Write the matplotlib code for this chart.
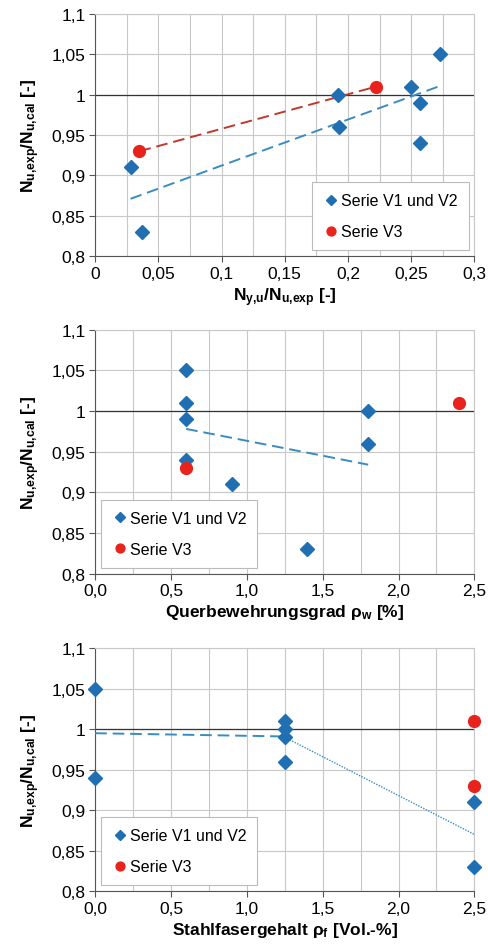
import matplotlib
matplotlib.use("Agg")
import matplotlib.pyplot as plt
from matplotlib.ticker import MultipleLocator, FuncFormatter

plt.rcParams["font.family"] = ["Liberation Sans", "DejaVu Sans"]
plt.rcParams["mathtext.fontset"] = "custom"
plt.rcParams["mathtext.rm"] = "Liberation Sans"
plt.rcParams["mathtext.bf"] = "Liberation Sans:bold"
plt.rcParams["mathtext.it"] = "Liberation Sans:italic"

BLUE = "#1f6fb2"
RED = "#e8231b"
TREND_BLUE = "#3a8cc0"
TREND_RED = "#c0392b"

# panel 1: Ny,u/Nu,exp
p1_blue_x = [0.028, 0.037, 0.192, 0.193, 0.250, 0.257, 0.257, 0.273]
p1_blue_y = [0.91, 0.83, 1.00, 0.96, 1.01, 0.99, 0.94, 1.05]
p1_red_x = [0.035, 0.222]
p1_red_y = [0.93, 1.01]
p1_trend_blue_x = [0.028, 0.273]
p1_trend_blue_y = [0.871, 1.011]
p1_trend_red_x = [0.035, 0.222]
p1_trend_red_y = [0.930, 1.010]

# panel 2: Querbewehrungsgrad
p2_blue_x = [0.6, 0.6, 0.6, 0.6, 0.9, 1.4, 1.8, 1.8]
p2_blue_y = [1.05, 1.01, 0.99, 0.94, 0.91, 0.83, 1.00, 0.96]
p2_red_x = [0.6, 2.4]
p2_red_y = [0.93, 1.01]
p2_trend_x = [0.6, 1.8]
p2_trend_y = [0.978, 0.934]

# panel 3: Stahlfasergehalt
p3_blue_x = [0.0, 0.0, 1.25, 1.25, 1.25, 1.25, 2.5, 2.5]
p3_blue_y = [1.05, 0.94, 1.01, 1.00, 0.99, 0.96, 0.91, 0.83]
p3_red_x = [2.5, 2.5]
p3_red_y = [1.01, 0.93]
p3_dash_x = [0.0, 1.25]
p3_dash_y = [0.995, 0.991]
p3_dot_x = [1.25, 2.5]
p3_dot_y = [0.99, 0.87]

YLABEL = r"$\mathbf{N_{u{,}exp}/N_{u{,}cal}}$ [-]"


def num(v, digits):
    s = "{:.{}f}".format(v, digits)
    if digits == 2:
        s = s.rstrip("0").rstrip(".")
    return s.replace(".", ",")


def setup(ax, xlim, xmajor, xminor, xdigits, xlabel):
    ax.set_xlim(*xlim)
    ax.set_ylim(0.8, 1.1)
    ax.xaxis.set_major_locator(MultipleLocator(xmajor))
    ax.xaxis.set_minor_locator(MultipleLocator(xminor))
    ax.yaxis.set_major_locator(MultipleLocator(0.05))
    ax.xaxis.set_major_formatter(FuncFormatter(lambda v, _: num(v, xdigits)))
    ax.yaxis.set_major_formatter(FuncFormatter(lambda v, _: num(v, 2)))
    ax.grid(True, which="both", color="#c8c8c8", lw=0.8)
    ax.set_axisbelow(True)
    ax.axhline(1.0, color="#333333", lw=0.9, zorder=1)
    for s in ["top", "right"]:
        ax.spines[s].set_color("#c8c8c8")
    for s in ["left", "bottom"]:
        ax.spines[s].set_color("#555555")
    ax.tick_params(which="major", direction="out", length=4, labelsize=12.5,
                   color="#555555", pad=3)
    ax.tick_params(which="minor", length=0)
    ax.set_ylabel(YLABEL, fontsize=12.5, fontweight="bold", labelpad=7)
    ax.set_xlabel(xlabel, fontsize=12.5, fontweight="bold", labelpad=3)


def scatter(ax, bx, by, rx, ry):
    ax.plot(bx, by, "D", color=BLUE, ms=7, ls="none",
            label="Serie V1 und V2", zorder=4, clip_on=False)
    ax.plot(rx, ry, "o", color=RED, ms=8.5, ls="none",
            label="Serie V3", zorder=4, clip_on=False)


fig = plt.figure(figsize=(4.88, 9.45), dpi=100)
ax1 = fig.add_axes([0.195, 0.728, 0.777, 0.256])
ax2 = fig.add_axes([0.195, 0.392, 0.777, 0.258])
ax3 = fig.add_axes([0.195, 0.056, 0.777, 0.257])

# panel 1
setup(ax1, (0, 0.3), 0.05, 0.025, 2, r"$\mathbf{N_{y{,}u}/N_{u{,}exp}}$ [-]")
ax1.plot(p1_trend_blue_x, p1_trend_blue_y, ls=(0, (6, 3)), color=TREND_BLUE, lw=1.4, zorder=3)
ax1.plot(p1_trend_red_x, p1_trend_red_y, ls=(0, (6, 3)), color=TREND_RED, lw=1.4, zorder=3)
scatter(ax1, p1_blue_x, p1_blue_y, p1_red_x, p1_red_y)

# panel 2
setup(ax2, (0, 2.5), 0.5, 0.25, 1, r"Querbewehrungsgrad ρ$_\mathbf{w}$ [%]")
ax2.plot(p2_trend_x, p2_trend_y, ls=(0, (6, 3)), color=TREND_BLUE, lw=1.4, zorder=3)
scatter(ax2, p2_blue_x, p2_blue_y, p2_red_x, p2_red_y)

# panel 3
setup(ax3, (0, 2.5), 0.5, 0.25, 1, r"Stahlfasergehalt ρ$_\mathbf{f}$ [Vol.-%]")
ax3.plot(p3_dash_x, p3_dash_y, ls=(0, (6, 3)), color=TREND_BLUE, lw=1.4, zorder=3)
ax3.plot(p3_dot_x, p3_dot_y, ls=(0, (1, 1)), color=TREND_BLUE, lw=1.0, zorder=3)
scatter(ax3, p3_blue_x, p3_blue_y, p3_red_x, p3_red_y)

for ax, loc in [(ax1, "lower right"), (ax2, "lower left"), (ax3, "lower left")]:
    leg = ax.legend(loc=loc, fontsize=11.5, frameon=True, fancybox=False,
                    edgecolor="#bbbbbb", handletextpad=0.1, handlelength=1.0,
                    borderpad=0.7, labelspacing=1.0, markerscale=0.75,
                    borderaxespad=0.35, framealpha=1)
    leg.get_frame().set_linewidth(0.8)
    leg.set_zorder(5)

fig.savefig("out.png", dpi=100)
